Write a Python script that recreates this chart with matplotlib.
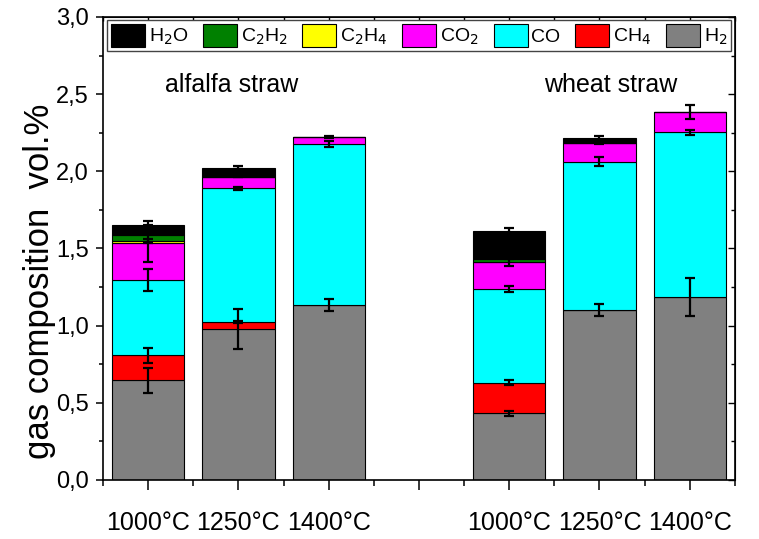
import numpy as np
import matplotlib
matplotlib.use('Agg')
import matplotlib.pyplot as plt
from matplotlib.ticker import FuncFormatter, MultipleLocator, NullFormatter

plt.rcParams['font.family'] = ['Liberation Sans', 'DejaVu Sans']

## bar positions and labels (alfalfa straw left, wheat straw right)
positions = [1, 2, 3, 5, 6, 7]
temps = ['1000°C', '1250°C', '1400°C', '1000°C', '1250°C', '1400°C']

## gas composition, vol.%  (stack order bottom -> top)
h2 = [0.646, 0.977, 1.134, 0.432, 1.102, 1.186]
ch4 = [0.162, 0.045, 0.0, 0.199, 0.0, 0.0]
co = [0.486, 0.868, 1.044, 0.607, 0.961, 1.066]
co2 = [0.240, 0.076, 0.047, 0.172, 0.123, 0.131]
c2h4 = [0.015, 0.0, 0.0, 0.0, 0.0, 0.0]
c2h2 = [0.039, 0.0, 0.0, 0.024, 0.0, 0.0]
h2o = [0.065, 0.058, 0.0, 0.182, 0.028, 0.0]

## standard deviations
h2_err = [0.08, 0.128, 0.038, 0.016, 0.038, 0.123]
ch4_err = [0.05, 0.006, 0.0, 0.016, 0.0, 0.0]
co_err = [0.07, 0.008, 0.02, 0.017, 0.027, 0.017]
co2_err = [0.12, 0.006, 0.006, 0.025, 0.006, 0.044]
c2h4_err = [0.011, 0.0, 0.0, 0.0, 0.0, 0.0]
c2h2_err = [0.0, 0.0, 0.0, 0.0, 0.0, 0.0]
h2o_err = [0.028, 0.01, 0.0, 0.017, 0.012, 0.0]

gases = [
    (h2, h2_err, '#808080', 'H$_2$'),
    (ch4, ch4_err, '#ff0000', 'CH$_4$'),
    (co, co_err, '#00ffff', 'CO'),
    (co2, co2_err, '#ff00ff', 'CO$_2$'),
    (c2h4, c2h4_err, '#ffff00', 'C$_2$H$_4$'),
    (c2h2, c2h2_err, '#008000', 'C$_2$H$_2$'),
    (h2o, h2o_err, '#000000', 'H$_2$O'),
]

fig = plt.figure(figsize=(7.59, 5.39), dpi=100)
ax = fig.add_axes([0.1357, 0.1095, 0.8325, 0.859])

x = np.array(positions, dtype=float)
bottom = np.zeros(len(x))
handles = []
for vals, errs, col, name in gases:
    vals = np.array(vals)
    errs = np.array(errs)
    b = ax.bar(x, vals, 0.8, bottom=bottom, color=col, edgecolor='black',
               linewidth=0.8, label=name, zorder=2)
    handles.append(b)
    bottom = bottom + vals
    m = errs > 0
    ax.errorbar(x[m], bottom[m], yerr=errs[m], fmt='none', ecolor='black',
                elinewidth=1.6, capsize=3.8, capthick=1.6, zorder=3)

ax.text(1.93, 2.56, 'alfalfa straw', ha='center', va='center', fontsize=18)
ax.text(6.12, 2.56, 'wheat straw', ha='center', va='center', fontsize=18)

ax.set_xlim(0.5, 7.5)
ax.set_ylim(0, 3.0)
ax.set_xticks([1, 2, 3, 4, 5, 6, 7])
ax.set_xticklabels(temps[:3] + [''] + temps[3:])
ax.xaxis.set_minor_locator(MultipleLocator(0.5))
ax.yaxis.set_major_locator(MultipleLocator(0.5))
ax.yaxis.set_minor_locator(MultipleLocator(0.25))
ax.yaxis.set_major_formatter(FuncFormatter(lambda v, p: f'{v:.1f}'.replace('.', ',')))

ax.tick_params(axis='x', which='major', direction='out', length=7, width=1.1,
               pad=15, labelsize=18)
ax.tick_params(axis='x', which='minor', direction='out', length=4, width=1.1)
ax.tick_params(axis='y', which='major', direction='out', length=5, width=1.1,
               pad=5, labelsize=17)
ax.tick_params(axis='y', which='minor', direction='out', length=3, width=1.1)
for s in ax.spines.values():
    s.set_linewidth(1.2)

# mirrored ticks on top and right, pointing inwards
top = ax.secondary_xaxis('top')
top.set_xticks([1, 2, 3, 4, 5, 6, 7])
top.xaxis.set_minor_locator(MultipleLocator(0.5))
top.xaxis.set_major_formatter(NullFormatter())
top.tick_params(which='major', direction='in', length=5, width=1.0)
top.tick_params(which='minor', direction='in', length=3, width=1.0)
right = ax.secondary_yaxis('right')
right.yaxis.set_major_locator(MultipleLocator(0.5))
right.yaxis.set_minor_locator(MultipleLocator(0.25))
right.yaxis.set_major_formatter(NullFormatter())
right.tick_params(which='major', direction='in', length=5, width=1.0)
right.tick_params(which='minor', direction='in', length=3, width=1.0)

ax.set_ylabel('gas composition  vol.%', fontsize=25)
ax.yaxis.set_label_coords(-0.074, 0.43)

leg = ax.legend(handles=handles[::-1], loc='upper left', ncol=7, mode='expand',
                bbox_to_anchor=(0.006, 0.9935, 0.988, 0.0), borderaxespad=0,
                fontsize=14, handlelength=1.75, handleheight=1.45, handletextpad=0.2,
                columnspacing=0.2, borderpad=0.2, fancybox=False, framealpha=1)
leg.get_frame().set_edgecolor('#444444')
leg.get_frame().set_linewidth(1.0)

fig.savefig('out.png', dpi=100)
